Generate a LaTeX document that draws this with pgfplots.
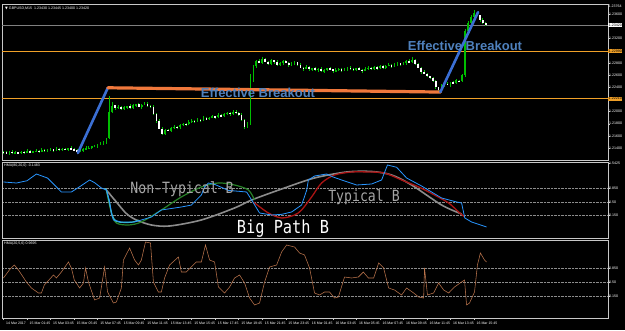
\documentclass[border=0pt]{standalone}
\usepackage{pgfplots}
\usepackage{pgfplotstable}
\pgfplotsset{compat=1.18}
\usepackage{fontspec}
\setmainfont{Liberation Sans}
\newfontfamily\gothic[FakeStretch=0.85]{DejaVu Sans Mono}
\newfontfamily\dejavu{DejaVu Sans}
\definecolor{cgreen}{RGB}{0,190,0}
\definecolor{frame}{RGB}{200,200,200}
\definecolor{ebblue}{RGB}{79,129,189}
\definecolor{lvl}{RGB}{240,160,40}
\definecolor{thickor}{RGB}{240,120,60}
\definecolor{thickbl}{RGB}{59,111,212}
\definecolor{hmablue}{RGB}{40,150,255}
\definecolor{hmacyan}{RGB}{60,190,190}
\definecolor{hmagreen}{RGB}{40,130,40}
\definecolor{hmagray}{RGB}{140,140,140}
\definecolor{hmared}{RGB}{170,20,20}
\definecolor{hmabrown}{RGB}{185,115,75}
\definecolor{ntgray}{RGB}{165,165,165}
\newcommand{\ticks}{\fontsize{3.6}{4}\selectfont}
\newcommand{\xticks}{\fontsize{3.5}{4}\selectfont}

\pgfplotstableread{
i o h l c
0 1.2134 1.2135 1.2131 1.2133
1 1.2133 1.2135 1.2131 1.2132
2 1.2132 1.2135 1.2129 1.2134
3 1.2134 1.2137 1.2131 1.2132
4 1.2132 1.2135 1.2130 1.2133
5 1.2133 1.2134 1.2130 1.2132
6 1.2132 1.2136 1.2131 1.2134
7 1.2134 1.2135 1.2130 1.2133
8 1.2133 1.2138 1.2132 1.2135
9 1.2135 1.2137 1.2132 1.2134
10 1.2134 1.2136 1.2132 1.2135
11 1.2135 1.2138 1.2134 1.2136
12 1.2136 1.2137 1.2132 1.2135
13 1.2135 1.2140 1.2134 1.2137
14 1.2137 1.2139 1.2134 1.2136
15 1.2136 1.2138 1.2134 1.2137
16 1.2137 1.2140 1.2136 1.2138
17 1.2138 1.2139 1.2134 1.2137
18 1.2137 1.2142 1.2136 1.2139
19 1.2139 1.2141 1.2136 1.2138
20 1.2138 1.2140 1.2136 1.2139
21 1.2139 1.2141 1.2137 1.2138
22 1.2138 1.2141 1.2135 1.2140
23 1.2140 1.2143 1.2137 1.2138
24 1.2138 1.2140 1.2135 1.2137
25 1.2137 1.2138 1.2132 1.2134
26 1.2134 1.2138 1.2133 1.2136
27 1.2136 1.2140 1.2133 1.2139
28 1.2139 1.2143 1.2138 1.2140
29 1.2140 1.2143 1.2138 1.2141
30 1.2141 1.2144 1.2139 1.2143
31 1.2143 1.2146 1.2142 1.2144
32 1.2144 1.2147 1.2141 1.2146
33 1.2146 1.2150 1.2145 1.2147
34 1.2147 1.2151 1.2145 1.2149
35 1.2149 1.2157 1.2147 1.2156
36 1.2156 1.2225 1.2155 1.2200
37 1.2200 1.2215 1.2198 1.2210
38 1.2210 1.2211 1.2203 1.2206
39 1.2206 1.2211 1.2205 1.2208
40 1.2208 1.2209 1.2202 1.2204
41 1.2204 1.2209 1.2203 1.2207
42 1.2207 1.2210 1.2204 1.2209
43 1.2209 1.2212 1.2205 1.2206
44 1.2206 1.2212 1.2204 1.2210
45 1.2210 1.2213 1.2208 1.2212
46 1.2212 1.2214 1.2207 1.2208
47 1.2208 1.2212 1.2205 1.2211
48 1.2211 1.2216 1.2210 1.2213
49 1.2213 1.2215 1.2208 1.2210
50 1.2210 1.2211 1.2206 1.2208
51 1.2208 1.2210 1.2195 1.2196
52 1.2196 1.2197 1.2181 1.2184
53 1.2184 1.2187 1.2171 1.2172
54 1.2172 1.2174 1.2162 1.2164
55 1.2164 1.2171 1.2162 1.2170
56 1.2170 1.2172 1.2168 1.2169
57 1.2169 1.2174 1.2166 1.2173
58 1.2173 1.2178 1.2172 1.2175
59 1.2175 1.2177 1.2172 1.2174
60 1.2174 1.2179 1.2172 1.2178
61 1.2178 1.2182 1.2177 1.2180
62 1.2180 1.2181 1.2176 1.2179
63 1.2179 1.2186 1.2178 1.2183
64 1.2183 1.2187 1.2181 1.2185
65 1.2185 1.2186 1.2182 1.2184
66 1.2184 1.2189 1.2183 1.2187
67 1.2187 1.2188 1.2183 1.2186
68 1.2186 1.2192 1.2185 1.2189
69 1.2189 1.2191 1.2186 1.2188
70 1.2188 1.2191 1.2186 1.2190
71 1.2190 1.2194 1.2189 1.2192
72 1.2192 1.2193 1.2188 1.2191
73 1.2191 1.2197 1.2190 1.2194
74 1.2194 1.2196 1.2191 1.2193
75 1.2193 1.2197 1.2191 1.2196
76 1.2196 1.2200 1.2195 1.2198
77 1.2198 1.2199 1.2193 1.2196
78 1.2196 1.2203 1.2195 1.2200
79 1.2200 1.2202 1.2196 1.2198
80 1.2198 1.2199 1.2193 1.2195
81 1.2195 1.2197 1.2185 1.2186
82 1.2186 1.2187 1.2171 1.2174
83 1.2174 1.2183 1.2173 1.2180
84 1.2180 1.2262 1.2178 1.2250
85 1.2250 1.2277 1.2249 1.2275
86 1.2275 1.2284 1.2272 1.2283
87 1.2283 1.2286 1.2279 1.2280
88 1.2280 1.2290 1.2278 1.2286
89 1.2286 1.2288 1.2281 1.2282
90 1.2282 1.2283 1.2276 1.2278
91 1.2278 1.2286 1.2277 1.2284
92 1.2284 1.2285 1.2278 1.2281
93 1.2281 1.2284 1.2275 1.2276
94 1.2276 1.2281 1.2274 1.2279
95 1.2279 1.2284 1.2277 1.2283
96 1.2283 1.2285 1.2279 1.2280
97 1.2280 1.2281 1.2273 1.2276
98 1.2276 1.2281 1.2275 1.2278
99 1.2278 1.2283 1.2276 1.2281
100 1.2281 1.2282 1.2275 1.2277
101 1.2277 1.2279 1.2271 1.2272
102 1.2272 1.2273 1.2267 1.2270
103 1.2270 1.2276 1.2269 1.2273
104 1.2273 1.2275 1.2267 1.2269
105 1.2269 1.2272 1.2267 1.2271
106 1.2271 1.2273 1.2267 1.2268
107 1.2268 1.2271 1.2265 1.2270
108 1.2270 1.2273 1.2265 1.2266
109 1.2266 1.2270 1.2264 1.2268
110 1.2268 1.2272 1.2266 1.2271
111 1.2271 1.2273 1.2268 1.2269
112 1.2269 1.2270 1.2263 1.2266
113 1.2266 1.2271 1.2265 1.2268
114 1.2268 1.2272 1.2266 1.2270
115 1.2270 1.2271 1.2265 1.2267
116 1.2267 1.2271 1.2266 1.2269
117 1.2269 1.2273 1.2266 1.2272
118 1.2272 1.2275 1.2269 1.2270
119 1.2270 1.2272 1.2266 1.2268
120 1.2268 1.2272 1.2266 1.2271
121 1.2271 1.2273 1.2268 1.2269
122 1.2269 1.2270 1.2264 1.2267
123 1.2267 1.2273 1.2266 1.2270
124 1.2270 1.2274 1.2268 1.2272
125 1.2272 1.2273 1.2268 1.2270
126 1.2270 1.2275 1.2269 1.2273
127 1.2273 1.2274 1.2268 1.2271
128 1.2271 1.2277 1.2270 1.2274
129 1.2274 1.2276 1.2270 1.2272
130 1.2272 1.2276 1.2270 1.2275
131 1.2275 1.2279 1.2274 1.2277
132 1.2277 1.2278 1.2271 1.2274
133 1.2274 1.2279 1.2273 1.2276
134 1.2276 1.2281 1.2274 1.2279
135 1.2279 1.2280 1.2275 1.2277
136 1.2277 1.2282 1.2276 1.2280
137 1.2280 1.2284 1.2277 1.2283
138 1.2283 1.2286 1.2280 1.2281
139 1.2281 1.2289 1.2279 1.2285
140 1.2285 1.2286 1.2276 1.2278
141 1.2278 1.2280 1.2271 1.2272
142 1.2272 1.2273 1.2262 1.2265
143 1.2265 1.2268 1.2261 1.2262
144 1.2262 1.2264 1.2256 1.2258
145 1.2258 1.2259 1.2253 1.2255
146 1.2255 1.2257 1.2249 1.2250
147 1.2250 1.2252 1.2237 1.2240
148 1.2240 1.2241 1.2233 1.2236
149 1.2236 1.2245 1.2235 1.2242
150 1.2242 1.2247 1.2240 1.2246
151 1.2246 1.2248 1.2243 1.2244
152 1.2244 1.2249 1.2241 1.2248
153 1.2248 1.2251 1.2246 1.2247
154 1.2247 1.2253 1.2245 1.2251
155 1.2251 1.2252 1.2248 1.2250
156 1.2250 1.2262 1.2249 1.2260
157 1.2260 1.2336 1.2257 1.2332
158 1.2332 1.2348 1.2331 1.2345
159 1.2345 1.2358 1.2343 1.2355
160 1.2355 1.2367 1.2354 1.2362
161 1.2362 1.2364 1.2356 1.2358
162 1.2358 1.2359 1.2347 1.2350
163 1.2350 1.2353 1.2344 1.2345
164 1.2345 1.2347 1.2340 1.2342
}\candles

\pgfplotsset{
  mtpanel/.style={
    anchor=south west, scale only axis, width=606pt,
    xmin=-0.5, xmax=205.6,
    axis line style={draw=frame, line width=0.6pt},
    tick style={draw=frame, line width=0.4pt},
    major tick length=1.5pt, tick align=outside,
    ytick pos=right, yticklabel pos=right,
    yticklabel style={font=\ticks, text=white, xshift=-1.2pt, inner sep=0.5pt},
    clip mode=individual,
  },
}

\begin{document}
\begin{tikzpicture}
\path[use as bounding box, fill=black] (0pt,0pt) rectangle (625pt,330pt);

% ---------------- price panel ----------------
\begin{axis}[mtpanel, at={(2pt,170pt)}, height=156pt,
  ymin=1.212056, ymax=1.23764, xtick=\empty,
  ytick={1.2140,1.2160,1.2180,1.2200,1.2240,1.2260,1.2280,1.2320,1.2360},
  yticklabels={1.21400,1.21600,1.21800,1.22000,1.22400,1.22600,1.22800,1.23200,1.23600}]
% level lines
\addplot[lvl, line width=1.3pt, forget plot] coordinates {(-0.5,1.2299) (205.6,1.2299)};
\addplot[lvl, line width=1.3pt, forget plot] coordinates {(-0.5,1.2221) (205.6,1.2221)};
\addplot[gray, line width=0.5pt, forget plot] coordinates {(-0.5,1.2342) (205.6,1.2342)};
% wicks
\addplot[draw=none, mark=none, forget plot,
  error bars/.cd, y dir=both, y explicit, error mark=none,
  error bar style={draw=cgreen, line width=0.5pt}]
  table[x=i, y expr={(\thisrow{h}+\thisrow{l})/2}, y error expr={(\thisrow{h}-\thisrow{l})/2}] {\candles};
% bull bodies
\addplot[draw=none, mark=none, forget plot,
  restrict expr to domain={\thisrow{c}-\thisrow{o}}{0:1},
  error bars/.cd, y dir=both, y explicit, error mark=none,
  error bar style={draw=cgreen, line width=1.7pt}]
  table[x=i, y expr={(\thisrow{o}+\thisrow{c})/2}, y error expr={abs(\thisrow{c}-\thisrow{o})/2}] {\candles};
% bear bodies
\addplot[draw=none, mark=none, forget plot,
  restrict expr to domain={\thisrow{o}-\thisrow{c}}{0.00001:1},
  error bars/.cd, y dir=both, y explicit, error mark=none,
  error bar style={draw=white, line width=1.7pt}]
  table[x=i, y expr={(\thisrow{o}+\thisrow{c})/2}, y error expr={abs(\thisrow{c}-\thisrow{o})/2}] {\candles};
% trend lines
\addplot[thickbl, line width=2.6pt, line cap=round] coordinates {(25.3,1.2132) (35.5,1.2239)};
\addplot[thickor, line width=3.2pt, line cap=round] coordinates {(35.5,1.2239) (148.6,1.2232)};
\addplot[thickbl, line width=2.6pt, line cap=round] coordinates {(148.6,1.2232) (161.4,1.2363)};
% price boxes
\node[anchor=west, fill=lvl, text=black, font=\ticks, inner sep=0.6pt] at (axis cs:205.6,1.2299) {1.22990};
\node[anchor=west, fill=lvl, text=black, font=\ticks, inner sep=0.6pt] at (axis cs:205.6,1.2221) {1.22210};
\node[anchor=west, fill=white, text=black, font=\ticks, inner sep=0.6pt] at (axis cs:205.6,1.2342) {1.23420};
\node[anchor=north west, text=white, font=\ticks, inner sep=0.5pt] at (axis cs:205.6,1.23764) {1.23764};
\end{axis}

% ---------------- HMA panel 1 ----------------
\begin{axis}[mtpanel, at={(2pt,92pt)}, height=76pt,
  ymin=-0.433, ymax=1.536, xtick=\empty,
  ytick={0.15,0.5,0.85}, yticklabels={0.150,0.50,0.850},
  ymajorgrids, grid style={densely dotted, draw=white!55!black, line width=0.4pt},
  extra y ticks={1.5}, extra y tick labels={1.5425},
  extra y tick style={grid=none}]
\addplot[hmagray, line width=1.6pt, smooth] coordinates {
(35,0.811) (38.4,0.50) (41.8,0.20) (45.2,0.034) (50.3,-0.096) (56.5,-0.122)
(67.3,0.034) (78.6,0.345) (84.4,0.552) (95.6,0.863) (105.8,1.122) (116.7,1.277)
(125.2,1.29) (132,1.2) (138.8,0.94) (149,0.422) (155.8,0.189)};
\addplot[hmagreen, line width=1.2pt, smooth] coordinates {
(35,0.811) (36.7,0.215) (38.4,-0.044) (42.5,-0.096) (46.9,-0.018) (53.7,0.293)
(60.5,0.63) (67.3,0.889) (73.1,0.992) (78.6,0.94) (83.3,0.811) (85.4,0.552)};
\addplot[hmared, line width=1.3pt, smooth] coordinates {
(85,0.5) (90.1,0.215) (94.6,0.086) (99,0.163) (101.4,0.293) (104.8,0.63)
(108.2,0.992) (112.6,1.199) (118.4,1.277) (124.1,1.277) (129.6,1.25) (135.4,1.07)
(141.2,0.889) (146.6,0.681) (151.4,0.474) (154.8,0.241) (156.9,0.112)};
\addplot[hmacyan, line width=1.2pt, smooth] coordinates {
(34.5,0.84) (35,0.811) (36,0.5) (37,0.15) (38.4,0.0) (41,-0.03) (44,-0.02) (46,0.03)};
\addplot[hmablue, line width=0.8pt] coordinates {
(0,1.018) (4.4,0.992) (8,1.05) (11.2,1.225) (15,1.12) (19.7,0.759) (23.1,0.759)
(26,0.9) (29.3,1.07) (31,1.0) (33.3,0.863) (35,0.811) (36,0.55) (36.7,0.2)
(37.4,0.034) (40,-0.018) (44.6,-0.018) (50.3,0.11) (53.7,0.293) (60.5,0.37)
(63.9,0.42) (67.3,0.68) (68.4,0.889) (69.7,0.992) (72,0.95) (76.5,0.8)
(82.7,0.759) (84.4,0.552) (87.1,0.215) (91.2,0.163) (94.6,0.18) (98,0.241)
(101.4,0.422) (103.1,0.8) (103.7,1.07) (105.8,1.173) (109.9,1.225) (112,1.15)
(115,1.07) (120.1,0.94) (125.2,0.966) (128.6,1.07) (130.6,1.458) (133.7,1.40)
(137.1,1.122) (142.2,0.914) (149,0.604) (154.1,0.5) (155.8,0.474) (156.9,0.086)
(159.2,-0.018) (164.3,-0.148)};
\end{axis}

% ---------------- HMA panel 2 ----------------
\begin{axis}[mtpanel, at={(2pt,12pt)}, height=78pt,
  ymin=-0.4, ymax=1.55,
  ytick={0.15,0.5,0.85}, yticklabels={0.150,0.50,0.850},
  ymajorgrids, grid style={densely dotted, draw=white!55!black, line width=0.4pt},
  xtick={0,8,...,160}, xtick pos=bottom,
  xticklabels={14 Mar 2017,15 Mar 01:45,15 Mar 03:45,15 Mar 05:45,15 Mar 07:45,15 Mar 09:45,15 Mar 11:45,15 Mar 13:45,15 Mar 15:45,15 Mar 17:45,15 Mar 19:45,15 Mar 21:45,15 Mar 23:45,16 Mar 01:45,16 Mar 03:45,16 Mar 05:45,16 Mar 07:45,16 Mar 09:45,16 Mar 11:45,16 Mar 13:45,16 Mar 15:45},
  xticklabel style={font=\xticks, text=white, anchor=north west, xshift=-0.8pt, yshift=0.6pt}]
\addplot[hmabrown, line width=0.55pt] coordinates {
(0,0.6) (2.0,0.8) (3.7,0.925) (5.1,0.8) (7.8,0.5) (9.5,0.35) (11.9,0.225) (12.9,0.225)
(13.9,0.425) (17.0,0.675) (18.0,0.6) (19.7,0.75) (22.1,1.0) (23.1,0.85) (24.1,0.55)
(25.9,0.35) (27.2,0.475) (27.9,0.85) (28.9,0.5) (31.0,0.05) (32.7,0.1) (34.4,0.875)
(35.4,0.25) (37.4,-0.025) (38.4,0.0) (40.1,0.35) (40.8,1.05) (42.9,1.35) (44.6,1.05)
(45.9,0.925) (46.9,1.05) (48.3,1.5) (50.0,1.475) (51.0,0.5) (52.7,0.25) (53.7,0.25)
(54.8,0.6) (56.5,0.925) (59.5,1.125) (60.5,0.75) (62.2,0.75) (63.9,0.875) (65.6,1.0)
(67.3,1.0) (68.7,1.425) (70.1,1.05) (71.8,1.0) (73.1,0.375) (75.2,0.225) (76.9,0.375)
(78.6,0.6) (80.3,0.675) (82.0,0.475) (83.7,0.1) (85.4,-0.075) (87.1,-0.025) (88.8,0.5)
(90.5,0.875) (92.9,0.925) (94.6,1.25) (96.3,1.425) (99.0,1.375) (100.7,1.225)
(102.4,1.175) (104.1,0.85) (105.8,0.225) (107.5,0.175) (109.2,0.25) (110.9,0.25)
(112.6,0.1) (113.9,0.125) (116.0,0.625) (118.4,0.6) (120.7,0.625) (122.4,0.75)
(124.1,0.6) (125.9,0.6) (127.6,0.975) (129.3,0.85) (131.0,0.35) (133.0,0.3)
(135.4,0.175) (137.1,0.35) (139.5,0.225) (141.2,0.125) (142.9,0.1) (143.2,0.85)
(144.2,0.175) (146.3,0.225) (148.0,0.475) (149.7,0.3) (151.4,0.225) (153.4,0.375)
(155.8,0.5) (156.8,0.55) (157.5,-0.075) (158.5,-0.025) (160.2,0.25) (161.2,0.925)
(162.2,1.225) (163.6,1.05) (164.3,1.0)};
\end{axis}

% ---------------- texts ----------------
\node[anchor=west, text=white, font=\ticks, inner sep=0] at (5pt,322pt)
  {{\dejavu ▼}\ GBPUSD,M15\ \ 1.23430 1.23445 1.23400 1.23420};
\node[anchor=west, text=white, font=\ticks, inner sep=0] at (4pt,164pt)
  {HMA(80,20,0) -0.1483};
\node[anchor=west, text=white, font=\ticks, inner sep=0] at (4pt,86pt)
  {HMA(20,5,6) 0.9695};
\node[text=ebblue, font=\fontsize{13}{14}\selectfont\bfseries] at (465pt,284pt) {Effective Breakout};
\node[text=ebblue, font=\fontsize{13}{14}\selectfont\bfseries] at (258pt,237pt) {Effective Breakout};
\node[text=ntgray, font=\gothic\fontsize{15.5}{16}\selectfont] at (182pt,141pt) {Non-Typical B};
\node[text=ntgray, font=\gothic\fontsize{15.5}{16}\selectfont] at (364pt,133pt) {Typical B};
\node[text=white, font=\gothic\fontsize{18}{19}\selectfont] at (283pt,101pt) {Big Path B};
\end{tikzpicture}
\end{document}
